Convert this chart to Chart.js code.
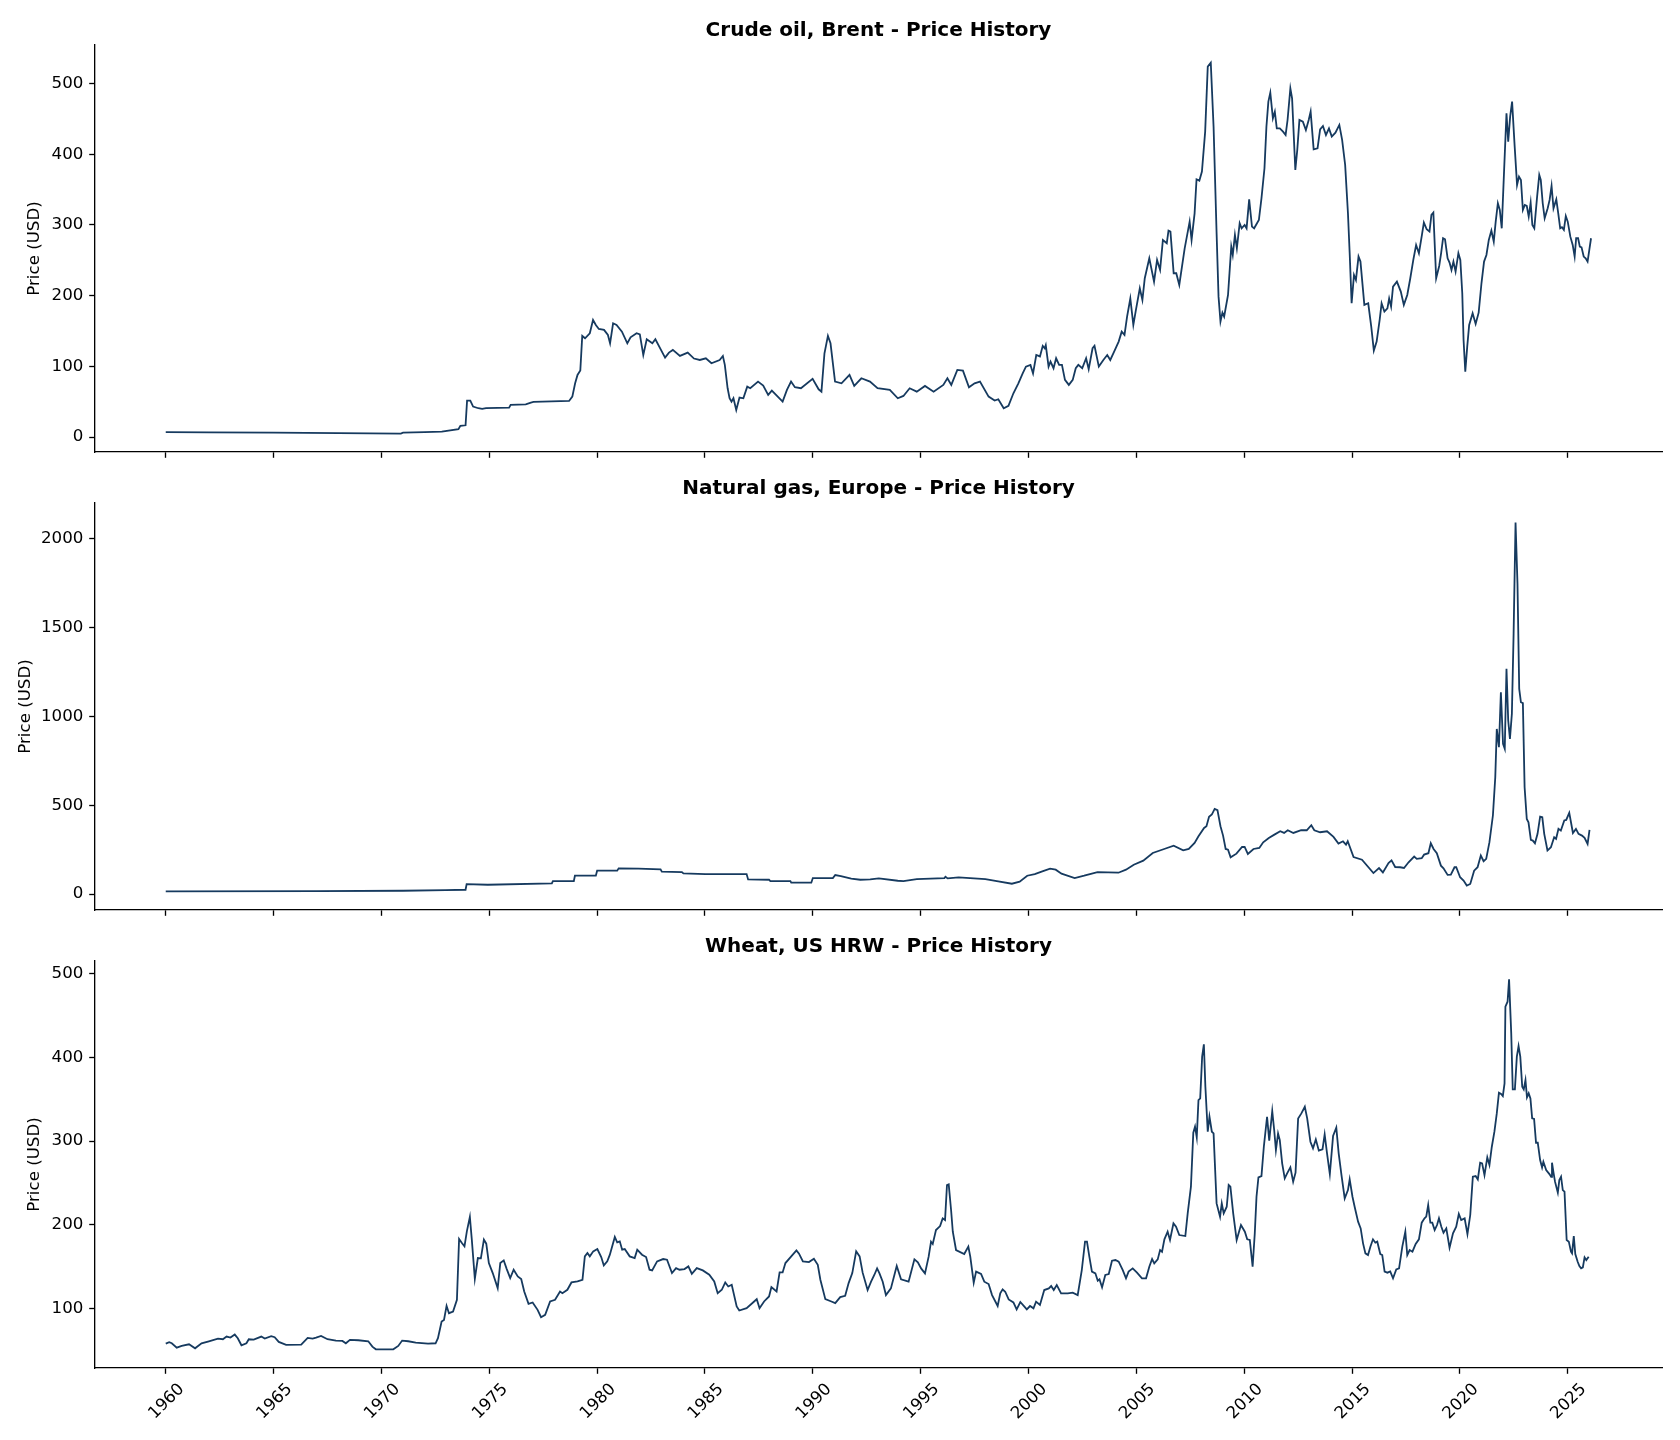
<!DOCTYPE html>
<html>
<head>
<meta charset="utf-8">
<title>Price History</title>
<script src="https://cdn.jsdelivr.net/npm/chart.js@4.4.1/dist/chart.umd.min.js"></script>
<style>
  html, body { margin: 0; padding: 0; background: #fff; }
  #wrap { position: relative; width: 1680px; height: 1440px; overflow: hidden; }
  #wrap canvas { position: absolute; left: 0; }
</style>
</head>
<body>
<div id="wrap">
  <canvas id="oilChart" width="1680" height="472" style="top:0px"></canvas>
  <canvas id="gasChart" width="1680" height="472" style="top:458px"></canvas>
  <canvas id="wheatChart" width="1680" height="524" style="top:916px"></canvas>
</div>
<script>
// ==== Data ====
const yearTicks = [1960, 1965, 1970, 1975, 1980, 1985, 1990, 1995, 2000, 2005, 2010, 2015, 2020, 2025];

const oilTicks = [0, 100, 200, 300, 400, 500];
const gasTicks = [0, 500, 1000, 1500, 2000];
const wheatTicks = [100, 200, 300, 400, 500];

// Crude oil, Brent
const oilYears = [
  1960.0, 1962.0, 1965.0, 1968.0, 1970.9, 1971.0, 1972.0, 1972.8, 1973.57, 1973.66, 1973.9, 1973.97,
  1974.12, 1974.25, 1974.49, 1974.67, 1974.85, 1975.92, 1975.99, 1976.69, 1976.93, 1977.05, 1978.7, 1978.85,
  1978.98, 1979.09, 1979.22, 1979.31, 1979.44, 1979.66, 1979.81, 1979.94, 1980.08, 1980.32, 1980.5, 1980.6,
  1980.74, 1980.9, 1981.15, 1981.4, 1981.55, 1981.83, 1981.98, 1982.14, 1982.3, 1982.56, 1982.7, 1982.96,
  1983.15, 1983.33, 1983.51, 1983.84, 1984.2, 1984.49, 1984.76, 1985.04, 1985.3, 1985.68, 1985.83, 1985.92,
  1986.05, 1986.14, 1986.23, 1986.32, 1986.45, 1986.6, 1986.78, 1986.96, 1987.1, 1987.46, 1987.7, 1987.93,
  1988.1, 1988.6, 1988.8, 1988.99, 1989.17, 1989.45, 1989.99, 1990.27, 1990.4, 1990.54, 1990.7, 1990.82,
  1991.03, 1991.33, 1991.7, 1991.92, 1992.25, 1992.65, 1993.0, 1993.57, 1993.94, 1994.2, 1994.49, 1994.82,
  1995.2, 1995.6, 1996.05, 1996.24, 1996.42, 1996.7, 1996.96, 1997.24, 1997.5, 1997.75, 1998.15, 1998.43,
  1998.6, 1998.85, 1999.07, 1999.3, 1999.53, 1999.73, 1999.88, 2000.09, 2000.21, 2000.36, 2000.53, 2000.66,
  2000.75, 2000.8, 2000.93, 2001.02, 2001.16, 2001.28, 2001.42, 2001.55, 2001.69, 2001.87, 2002.05, 2002.19,
  2002.31, 2002.49, 2002.67, 2002.79, 2002.97, 2003.06, 2003.26, 2003.47, 2003.65, 2003.79, 2003.97, 2004.18,
  2004.32, 2004.45, 2004.57, 2004.72, 2004.86, 2004.98, 2005.16, 2005.28, 2005.39, 2005.6, 2005.82, 2005.96,
  2006.1, 2006.23, 2006.41, 2006.49, 2006.58, 2006.73, 2006.85, 2006.99, 2007.24, 2007.47, 2007.56, 2007.7,
  2007.79, 2007.92, 2008.04, 2008.19, 2008.31, 2008.45, 2008.58, 2008.72, 2008.81, 2008.9, 2008.99, 2009.07,
  2009.25, 2009.4, 2009.47, 2009.57, 2009.66, 2009.79, 2009.88, 2010.02, 2010.11, 2010.23, 2010.36, 2010.46,
  2010.68, 2010.8, 2010.94, 2011.03, 2011.12, 2011.21, 2011.33, 2011.42, 2011.51, 2011.65, 2011.8, 2011.92,
  2012.01, 2012.14, 2012.22, 2012.37, 2012.46, 2012.56, 2012.72, 2012.86, 2012.99, 2013.08, 2013.22, 2013.4,
  2013.52, 2013.65, 2013.79, 2013.93, 2014.06, 2014.23, 2014.41, 2014.54, 2014.68, 2014.81, 2014.89, 2014.98,
  2015.09, 2015.18, 2015.3, 2015.39, 2015.57, 2015.75, 2015.89, 2016.01, 2016.14, 2016.28, 2016.37, 2016.5,
  2016.64, 2016.72, 2016.81, 2016.9, 2017.08, 2017.26, 2017.4, 2017.56, 2017.7, 2017.84, 2017.97, 2018.1,
  2018.24, 2018.33, 2018.46, 2018.59, 2018.68, 2018.77, 2018.9, 2019.04, 2019.13, 2019.22, 2019.31, 2019.43,
  2019.52, 2019.61, 2019.7, 2019.8, 2019.93, 2020.02, 2020.11, 2020.17, 2020.25, 2020.34, 2020.43, 2020.59,
  2020.73, 2020.87, 2021.0, 2021.12, 2021.23, 2021.34, 2021.46, 2021.57, 2021.66, 2021.76, 2021.85, 2021.94,
  2022.05, 2022.16, 2022.24, 2022.33, 2022.42, 2022.54, 2022.65, 2022.74, 2022.83, 2022.92, 2023.01, 2023.1,
  2023.19, 2023.28, 2023.36, 2023.45, 2023.58, 2023.68, 2023.75, 2023.84, 2023.93, 2024.07, 2024.16, 2024.25,
  2024.34, 2024.47, 2024.56, 2024.65, 2024.73, 2024.82, 2024.91, 2025.0, 2025.12, 2025.23, 2025.32, 2025.39,
  2025.48, 2025.56, 2025.64, 2025.74, 2025.83, 2025.92, 2026.0, 2026.08
];
const oilPrices = [
  6.8, 6.5, 6.1, 5.6, 4.9, 6.2, 6.8, 7.6, 11, 15.7, 16.6, 51.5,
  51.5, 43, 40.7, 39.7, 41, 41.6, 45.4, 46.3, 48.7, 49.6, 51, 57.2,
  76, 87.8, 94, 143, 139.7, 146.8, 165.6, 158.5, 152.9, 151.5, 144.4, 132.6,
  160.9, 158.5, 149, 132.6, 141, 146.8, 145.3, 116, 138.3, 132.6, 138.3, 123.2,
  112.3, 119.4, 123.2, 114.7, 119.4, 111, 109, 111.4, 104.3, 109, 114.7, 102,
  69, 54.8, 50, 54.8, 38.3, 55.8, 54.8, 71.3, 69, 78.4, 72.7, 59.5,
  65.6, 50, 66.6, 78.4, 70.4, 69, 82.2, 67.5, 64.2, 118.5, 143, 132.6,
  78.4, 76, 87.8, 72.3, 83.1, 78.4, 69, 66.6, 54.8, 58.1, 69, 64.2,
  72.3, 64.2, 73.7, 83.1, 73.7, 94.9, 94, 70.4, 76, 78.4, 57.2, 51.5,
  53.4, 40.7, 44, 61.9, 76, 90, 99.6, 102, 90, 116, 114, 129,
  125.6, 130, 99.6, 106.7, 97.3, 111.4, 102, 102, 80.8, 73.7, 80.8, 97.3,
  102, 97.3, 111.4, 95.9, 125.6, 129, 99.6, 109, 116, 109, 120.9, 135,
  149, 144.4, 170.3, 196, 158.6, 179.8, 210.4, 194, 224.6, 252.9, 219.9, 250.5,
  236.4, 278.8, 274.1, 292, 290.6, 231.7, 231.7, 215.2, 267, 304.7, 278.8, 316.5,
  364.6, 362.7, 375.5, 432, 524, 529.6, 439, 288.2, 198.6, 163.3, 176, 170.3,
  201, 269.4, 257.6, 285.9, 267, 302.4, 295.3, 300, 295.3, 336.3, 297.7, 295.3,
  307, 337.7, 380.2, 439, 474.5, 487.2, 450.9, 460.3, 436.7, 436.7, 432, 427.3,
  448.5, 493.3, 479.2, 377.8, 406.1, 448.5, 446.2, 434.4, 448.5, 460.3, 407, 408.5,
  435.3, 440, 427.3, 436.7, 425, 430.6, 441.5, 420.3, 384.9, 316.5, 260, 189.2,
  229.3, 222.2, 255.3, 248.2, 186.9, 189.2, 156.2, 122.3, 135, 165.6, 189.2, 177.4,
  182.1, 196, 184.5, 212.8, 219.9, 205.7, 186.9, 201, 224.6, 250.5, 271.7, 260,
  285.9, 303.3, 293.9, 290.6, 314.2, 317.5, 224.6, 242, 260, 281.2, 279.7, 252.9,
  246.7, 236.4, 248.2, 234, 260, 250.5, 203.4, 137.3, 92.5, 127.9, 158.6, 175,
  160, 176, 217.5, 248.2, 257.6, 278.8, 292, 276.4, 304.7, 330.7, 321.2, 295.3,
  377.8, 458, 417.9, 453.3, 474.5, 410.8, 356.6, 368.4, 363.7, 321.2, 328.3, 326.9,
  311.8, 331.6, 300, 295.3, 340, 370.8, 363.7, 330.7, 309.5, 323.6, 335.4, 355.2,
  323.6, 336.3, 316.5, 295.3, 296.7, 293, 312.7, 304.7, 283.5, 271.7, 255.3, 281.2,
  281.2, 269.4, 268.4, 255.3, 252.9, 248.2, 264.7, 281.2
];

// Natural gas, Europe
const gasYears = [
  1960.0, 1967.0, 1971.0, 1972.97, 1973.9, 1973.95, 1974.93, 1977.9, 1977.95, 1978.92, 1978.97, 1979.94,
  1980.0, 1980.93, 1981.0, 1981.92, 1982.94, 1983.0, 1983.93, 1984.0, 1985.02, 1986.93, 1987.0, 1987.97,
  1988.03, 1988.96, 1989.0, 1989.93, 1990.0, 1990.93, 1991.04, 1991.3, 1991.78, 1992.2, 1992.66, 1993.06,
  1993.94, 1994.2, 1994.82, 1996.1, 1996.15, 1996.25, 1996.76, 1998.0, 1998.53, 1999.23, 1999.59, 1999.94,
  2000.29, 2000.64, 2001.0, 2001.26, 2001.53, 2002.14, 2002.58, 2003.2, 2004.17, 2004.52, 2004.88, 2005.32,
  2005.76, 2006.29, 2006.73, 2007.17, 2007.43, 2007.7, 2007.88, 2008.14, 2008.25, 2008.37, 2008.5, 2008.63,
  2008.76, 2008.9, 2009.02, 2009.14, 2009.25, 2009.37, 2009.64, 2009.9, 2010.02, 2010.17, 2010.43, 2010.7,
  2010.88, 2011.14, 2011.4, 2011.67, 2011.85, 2012.02, 2012.28, 2012.64, 2012.9, 2013.11, 2013.25, 2013.52,
  2013.84, 2014.14, 2014.37, 2014.58, 2014.72, 2014.8, 2015.07, 2015.46, 2015.99, 2016.25, 2016.43, 2016.69,
  2016.83, 2017.0, 2017.23, 2017.41, 2017.62, 2017.88, 2018.0, 2018.23, 2018.34, 2018.54, 2018.65, 2018.78,
  2018.93, 2019.12, 2019.24, 2019.43, 2019.58, 2019.75, 2019.83, 2020.01, 2020.17, 2020.32, 2020.48, 2020.66,
  2020.82, 2020.97, 2021.1, 2021.22, 2021.37, 2021.53, 2021.64, 2021.71, 2021.81, 2021.9, 2022.0, 2022.08,
  2022.16, 2022.24, 2022.32, 2022.41, 2022.49, 2022.58, 2022.67, 2022.75, 2022.83, 2022.92, 2023.0, 2023.1,
  2023.18, 2023.29, 2023.38, 2023.48, 2023.6, 2023.72, 2023.82, 2023.91, 2024.06, 2024.22, 2024.37, 2024.46,
  2024.57, 2024.68, 2024.84, 2024.93, 2025.07, 2025.15, 2025.24, 2025.38, 2025.5, 2025.66, 2025.78, 2025.92,
  2026.01
];
const gasPrices = [
  15, 17, 19, 22.6, 24.4, 56.4, 52.6, 60, 73.3, 73.3, 103.4, 103.4,
  131.6, 131.6, 144.8, 142.9, 139, 126, 124, 116.6, 112.8, 112.8, 82.7, 80.8,
  73.3, 73.3, 64, 64, 90.2, 90.2, 107.2, 101.5, 86.5, 80.8, 82.7, 88.4,
  75.2, 73.3, 84.6, 90.2, 97.8, 88.4, 94, 84.6, 73.3, 58.3, 69.6, 103.4,
  112.8, 127.8, 142.9, 137.2, 114.7, 90.2, 103.4, 124, 120.3, 137.2, 165.4, 188,
  231.2, 253.8, 272.6, 246.3, 253.8, 287.6, 325.2, 372.2, 381.6, 434.3, 447.4, 479.4,
  471.9, 381.6, 329, 253.8, 250, 206.8, 227.5, 265, 265, 225.6, 253.8, 259.4,
  291.4, 315.8, 334.6, 353.4, 344, 359, 344, 359, 359, 387.3, 359, 347.8,
  353.4, 321.5, 283.9, 297, 278.2, 297, 208.7, 193.6, 118.4, 146.6, 122.2, 174.8,
  189.9, 152.3, 151, 147, 179, 211, 198, 202, 222, 230, 286, 254,
  230, 160, 145, 108, 110, 151, 151, 95, 76, 48, 57, 132,
  151, 217, 185, 198, 292, 442, 657, 929, 826, 1135, 845, 817,
  1267, 976, 873, 1014, 1464, 2090, 1745, 1154, 1079, 1074, 601, 423,
  404, 305, 301, 286, 339, 436, 432, 339, 245, 264, 320, 311,
  367, 357, 414, 417, 457, 404, 344, 367, 339, 329, 316, 282,
  361
];

// Wheat, US HRW
const wheatYears = [
  1960.0, 1960.16, 1960.28, 1960.51, 1960.74, 1961.08, 1961.36, 1961.66, 1962.0, 1962.42, 1962.65, 1962.82,
  1963.0, 1963.2, 1963.34, 1963.51, 1963.74, 1963.85, 1964.08, 1964.43, 1964.59, 1964.89, 1965.05, 1965.24,
  1965.58, 1966.28, 1966.58, 1966.81, 1966.97, 1967.2, 1967.5, 1967.89, 1968.19, 1968.35, 1968.54, 1968.93,
  1969.39, 1969.58, 1969.74, 1970.55, 1970.78, 1970.96, 1971.24, 1971.59, 1972.16, 1972.51, 1972.62, 1972.79,
  1972.9, 1973.02, 1973.13, 1973.32, 1973.5, 1973.6, 1973.73, 1973.85, 1973.96, 1974.1, 1974.19, 1974.33,
  1974.47, 1974.61, 1974.75, 1974.86, 1974.98, 1975.16, 1975.39, 1975.51, 1975.67, 1975.81, 1975.97, 1976.13,
  1976.32, 1976.48, 1976.62, 1976.82, 1977.01, 1977.24, 1977.4, 1977.59, 1977.82, 1978.05, 1978.28, 1978.39,
  1978.62, 1978.81, 1979.09, 1979.32, 1979.43, 1979.55, 1979.66, 1979.82, 1980.01, 1980.19, 1980.31, 1980.47,
  1980.59, 1980.82, 1980.93, 1981.05, 1981.16, 1981.28, 1981.51, 1981.74, 1981.86, 1982.08, 1982.27, 1982.43,
  1982.55, 1982.78, 1983.06, 1983.24, 1983.47, 1983.66, 1983.82, 1984.05, 1984.23, 1984.39, 1984.62, 1984.9,
  1985.2, 1985.43, 1985.59, 1985.78, 1985.94, 1986.08, 1986.24, 1986.47, 1986.59, 1986.93, 1987.28, 1987.4,
  1987.53, 1987.74, 1987.97, 1988.08, 1988.32, 1988.46, 1988.6, 1988.73, 1989.0, 1989.24, 1989.36, 1989.54,
  1989.82, 1990.05, 1990.23, 1990.35, 1990.58, 1990.86, 1991.04, 1991.27, 1991.5, 1991.66, 1991.83, 1992.01,
  1992.17, 1992.31, 1992.54, 1992.7, 1992.85, 1992.98, 1993.09, 1993.24, 1993.39, 1993.62, 1993.89, 1994.09,
  1994.44, 1994.71, 1994.87, 1995.02, 1995.2, 1995.37, 1995.48, 1995.56, 1995.71, 1995.9, 1996.02, 1996.13,
  1996.22, 1996.3, 1996.41, 1996.49, 1996.64, 1997.02, 1997.21, 1997.3, 1997.46, 1997.57, 1997.8, 1997.95,
  1998.15, 1998.31, 1998.57, 1998.69, 1998.8, 1998.92, 1999.08, 1999.3, 1999.45, 1999.62, 1999.81, 1999.92,
  2000.07, 2000.23, 2000.35, 2000.53, 2000.73, 2000.94, 2001.05, 2001.17, 2001.31, 2001.51, 2001.82, 2002.05,
  2002.28, 2002.47, 2002.62, 2002.71, 2002.82, 2002.94, 2003.1, 2003.21, 2003.29, 2003.41, 2003.56, 2003.72,
  2003.87, 2004.03, 2004.18, 2004.37, 2004.52, 2004.64, 2004.83, 2005.03, 2005.26, 2005.45, 2005.6, 2005.73,
  2005.83, 2005.99, 2006.1, 2006.19, 2006.3, 2006.45, 2006.56, 2006.72, 2006.84, 2006.99, 2007.27, 2007.38,
  2007.53, 2007.64, 2007.72, 2007.8, 2007.88, 2007.96, 2008.05, 2008.13, 2008.2, 2008.31, 2008.39, 2008.5,
  2008.58, 2008.72, 2008.88, 2008.96, 2009.05, 2009.19, 2009.28, 2009.36, 2009.49, 2009.65, 2009.85, 2010.03,
  2010.14, 2010.26, 2010.39, 2010.49, 2010.57, 2010.66, 2010.8, 2010.91, 2011.06, 2011.16, 2011.3, 2011.39,
  2011.47, 2011.57, 2011.65, 2011.76, 2011.88, 2011.99, 2012.14, 2012.27, 2012.38, 2012.5, 2012.65, 2012.81,
  2012.92, 2013.07, 2013.19, 2013.32, 2013.46, 2013.63, 2013.73, 2013.84, 2013.97, 2014.12, 2014.27, 2014.38,
  2014.51, 2014.66, 2014.81, 2014.89, 2015.02, 2015.12, 2015.28, 2015.4, 2015.51, 2015.62, 2015.74, 2015.85,
  2015.97, 2016.08, 2016.17, 2016.31, 2016.4, 2016.51, 2016.64, 2016.77, 2016.9, 2017.05, 2017.18, 2017.33,
  2017.47, 2017.56, 2017.67, 2017.8, 2017.95, 2018.1, 2018.23, 2018.36, 2018.44, 2018.53, 2018.63, 2018.72,
  2018.83, 2018.94, 2019.03, 2019.14, 2019.24, 2019.37, 2019.52, 2019.68, 2019.83, 2019.95, 2020.06, 2020.22,
  2020.35, 2020.48, 2020.6, 2020.73, 2020.83, 2020.94, 2021.03, 2021.14, 2021.27, 2021.37, 2021.48, 2021.6,
  2021.71, 2021.81, 2021.91, 2021.99, 2022.07, 2022.11, 2022.21, 2022.28, 2022.38, 2022.45, 2022.55, 2022.64,
  2022.72, 2022.8, 2022.89, 2022.96, 2023.04, 2023.11, 2023.19, 2023.27, 2023.35, 2023.44, 2023.53, 2023.61,
  2023.72, 2023.81, 2023.87, 2024.0, 2024.15, 2024.23, 2024.27, 2024.34, 2024.41, 2024.54, 2024.61, 2024.69,
  2024.77, 2024.85, 2024.95, 2025.05, 2025.15, 2025.2, 2025.28, 2025.35, 2025.46, 2025.54, 2025.62, 2025.7,
  2025.78, 2025.86, 2025.97
];
const wheatPrices = [
  57.6, 59.2, 58, 52.8, 54.8, 56.8, 52, 58, 60.4, 63.6, 62.8, 66,
  64.8, 68.4, 64, 55.6, 58, 62.8, 62.4, 66, 63.6, 66.4, 65.2, 59.6,
  56, 56.4, 64.4, 63.6, 64.8, 66.8, 62.8, 61.2, 60.8, 58, 62, 61.6,
  60.4, 54, 50.8, 50.8, 54.8, 61.2, 60.4, 58.8, 57.6, 58, 64, 84,
  86, 102.8, 94, 96, 110, 182.8, 178, 174, 192, 209.2, 182, 135.2,
  160, 159.6, 182, 177.2, 154, 142, 124, 154, 157.2, 146.8, 136, 146,
  138, 134.8, 120, 105.2, 106.8, 98, 89.2, 92, 108, 110, 120, 118,
  122, 130.8, 132, 134, 162, 166, 162, 168, 170.8, 161.2, 151.2, 156,
  164, 185.2, 178.8, 180, 170, 170.8, 162, 160, 170, 164, 161.2, 146,
  145.2, 156, 158.8, 158, 142, 148, 146, 146.8, 150, 141.2, 148, 145.2,
  140, 132, 118, 122, 130.8, 126, 128, 102, 97.2, 100, 108, 110.8,
  100, 108, 114, 125.2, 120, 142.8, 142.8, 154, 162, 169.2, 165.2, 156,
  155.2, 159.2, 152, 134, 110.8, 108, 106, 113.2, 114.8, 130, 142, 168,
  162, 142.5, 121.7, 131.7, 139.7, 147.6, 141.7, 131.7, 115.7, 123.7, 150.4, 134.5,
  131.7, 158.4, 154.8, 147.6, 141.7, 161.6, 179.6, 176.8, 193.5, 198.3, 207.5, 205.5,
  247.4, 248.2, 217.5, 191.5, 169.6, 164.8, 173.6, 161.6, 130.5, 143.7, 140.9, 131.7,
  128.9, 115.7, 102.6, 117.7, 122.5, 119.7, 110.5, 106.9, 98.6, 107.4, 101.8, 98.6,
  102.6, 99.8, 107.8, 103.8, 121.7, 123.7, 126.5, 121.7, 127.7, 117.7, 117.7, 118.5,
  115.7, 145.6, 179.6, 179.6, 161.6, 143.7, 141.7, 132.9, 134.5, 124.9, 139.7, 140.9,
  156.8, 157.6, 155.6, 145.6, 135.7, 143.7, 147.6, 142.5, 135.7, 135.7, 149.6, 158.8,
  153.6, 158.4, 169.6, 167.6, 182.4, 191.5, 181.6, 201.5, 197.5, 187.5, 186.3, 213.5,
  245.4, 310, 317.2, 304.4, 349.1, 351.1, 401, 415.7, 365, 311.2, 329.1, 311.2,
  309.2, 225.4, 209.5, 225.4, 213.5, 221.4, 247.4, 245.4, 213.5, 181.6, 199.5, 191.5,
  182.4, 181.6, 149.6, 189.5, 233.4, 256.5, 258.1, 293.2, 329.1, 300.4, 335.9, 313.2,
  289.2, 309.2, 301.2, 273.3, 255.4, 261.3, 268.5, 251.4, 262.1, 327.1, 333.1, 341.1,
  327.1, 299.2, 291.3, 302, 288.5, 290.1, 308, 285.3, 260.5, 306, 316, 285.3,
  259.3, 231.4, 241.4, 254.1, 233.4, 221.4, 203.5, 195.5, 177.6, 165.6, 163.6, 173.6,
  182.4, 178.4, 179.6, 164.8, 163.6, 143.7, 142.5, 144, 135.7, 146.4, 147.6, 173.6,
  191.5, 163.6, 169.6, 167.6, 176.8, 182.4, 202.3, 207.5, 209.5, 223.4, 202.3, 202.3,
  193.5, 199.5, 207.5, 197.5, 190.3, 195.5, 172.4, 189.5, 197.5, 212.7, 205.5, 207.5,
  188.7, 211.5, 257.3, 258.1, 254.1, 274.1, 273.3, 259.3, 280.5, 271.3, 293.2, 311.2,
  333.1, 357.9, 356.3, 353.9, 369, 460.8, 466.8, 493.5, 428.9, 361.9, 361.9, 401,
  413.7, 401, 365, 361.9, 373, 352.3, 357.1, 351.1, 327.1, 326.4, 298, 298,
  277.3, 268.5, 275.3, 265.3, 260.5, 257.3, 274.1, 262.1, 251.4, 238.2, 253.3, 257.3,
  241.4, 239.4, 181.6, 179.6, 167.6, 165.6, 186.3, 164.8, 155.6, 150.4, 147.6, 148.8,
  160.8, 157.6, 161.6
];

// ==== Shared look ====
Chart.defaults.font.family = "'DejaVu Sans', sans-serif";
Chart.defaults.color = '#000';

const lineColor = '#163a5f';
const axisWidth = 1.33;
const tickLen = 5.8;
const labelSize = 16.67;

function toPoints(xs, ys) {
    return xs.map((x, i) => ({ x: x, y: ys[i] }));
}

function makePanel(canvasId, title, years, prices, yTicks, yMin, yMax, opts) {
    const ctx = document.getElementById(canvasId).getContext('2d');
    return new Chart(ctx, {
        type: 'line',
        data: {
            datasets: [{
                data: toPoints(years, prices),
                borderColor: lineColor,
                borderWidth: 1.8,
                pointRadius: 0,
                fill: false,
                tension: 0
            }]
        },
        options: {
            responsive: false,
            animation: false,
            layout: { padding: { left: 0, right: 18, top: 0, bottom: 0 } },
            plugins: {
                legend: { display: false },
                tooltip: { enabled: false },
                title: {
                    display: true,
                    text: title,
                    fullSize: false,
                    color: '#000',
                    font: { size: 20, weight: 'bold' },
                    padding: { top: 19, bottom: 2 }
                }
            },
            scales: {
                x: {
                    type: 'linear',
                    min: 1956.72,
                    max: 2029.37,
                    afterBuildTicks: (scale) => { scale.ticks = yearTicks.map(v => ({ value: v })); },
                    afterFit: (scale) => { scale.height = opts.xHeight; },
                    border: { display: true, color: '#000', width: axisWidth },
                    grid: {
                        display: true, drawOnChartArea: false, drawTicks: true,
                        tickLength: tickLen, tickWidth: axisWidth, tickColor: '#000', color: '#000'
                    },
                    ticks: {
                        display: opts.showYears,
                        autoSkip: false,
                        minRotation: 45,
                        maxRotation: 45,
                        labelOffset: 16,
                        padding: 5.7,
                        color: '#000',
                        font: { size: labelSize },
                        callback: (v) => String(v)
                    }
                },
                y: {
                    type: 'linear',
                    min: yMin,
                    max: yMax,
                    afterBuildTicks: (scale) => { scale.ticks = yTicks.map(v => ({ value: v })); },
                    afterFit: (scale) => { scale.width = 95; },
                    border: { display: true, color: '#000', width: axisWidth },
                    grid: {
                        display: true, drawOnChartArea: false, drawTicks: true,
                        tickLength: tickLen, tickWidth: axisWidth, tickColor: '#000', color: '#000'
                    },
                    ticks: {
                        padding: 5.8,
                        color: '#000',
                        font: { size: labelSize },
                        callback: (v) => String(v)
                    },
                    title: {
                        display: true,
                        text: 'Price (USD)',
                        color: '#000',
                        font: { size: labelSize },
                        padding: { top: opts.titlePad, bottom: 0 }
                    }
                }
            }
        }
    });
}

makePanel('oilChart', 'Crude oil, Brent - Price History', oilYears, oilPrices, oilTicks, -21.2, 554.6,
    { xHeight: 20, showYears: false, titlePad: 25 });
makePanel('gasChart', 'Natural gas, Europe - Price History', gasYears, gasPrices, gasTicks, -89.4, 2199.6,
    { xHeight: 20, showYears: false, titlePad: 16 });
makePanel('wheatChart', 'Wheat, US HRW - Price History', wheatYears, wheatPrices, wheatTicks, 28.4, 515.5,
    { xHeight: 72, showYears: true, titlePad: 25 });
</script>
</body>
</html>
